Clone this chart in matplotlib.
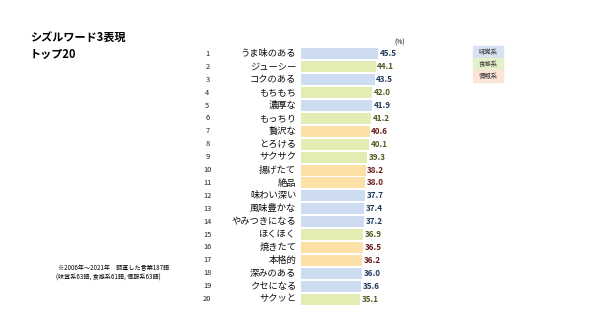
import matplotlib
matplotlib.use("Agg")
import matplotlib.pyplot as plt
from matplotlib.patches import Rectangle

plt.rcParams['font.family'] = ['Noto Sans CJK JP', 'DejaVu Sans']

words = ["うま味のある", "ジューシー", "コクのある", "もちもち", "濃厚な", "もっちり",
         "贅沢な", "とろける", "サクサク", "揚げたて", "絶品", "味わい深い",
         "風味豊かな", "やみつきになる", "ほくほく", "焼きたて", "本格的", "深みのある",
         "クセになる", "サクッと"]
values = [45.5, 44.1, 43.5, 42.0, 41.9, 41.2, 40.6, 40.1, 39.3, 38.2, 38.0,
          37.7, 37.4, 37.2, 36.9, 36.5, 36.2, 36.0, 35.6, 35.1]
groups = ["味覚系", "食感系", "味覚系", "食感系", "味覚系", "食感系", "情報系", "食感系",
          "食感系", "情報系", "情報系", "味覚系", "味覚系", "味覚系", "食感系", "情報系",
          "情報系", "味覚系", "味覚系", "食感系"]
legend_names = ["味覚系", "食感系", "情報系"]

bar_col = {"味覚系": "#cddcf0", "食感系": "#e3ecb2", "情報系": "#fddfa8"}
val_col = {"味覚系": "#1f3a5f", "食感系": "#4f5a1e", "情報系": "#6b1a1a"}
leg_col = {"味覚系": "#d7e3f3", "食感系": "#e6f0c9", "情報系": "#fce4d6"}

fig = plt.figure(figsize=(6, 3.24), dpi=100)
ax = fig.add_axes([301 / 600, 1 - 305.5 / 324, 120 / 600, 258 / 324])

ranks = list(range(1, len(values) + 1))
ax.barh(ranks, values, height=0.86, color=[bar_col[g] for g in groups])
for r, v, g, w in zip(ranks, values, groups, words):
    ax.text(v + 1.0, r, f"{v:.1f}", va="center", ha="left", fontsize=5.8,
            fontweight="bold", color=val_col[g])
    ax.text(-0.04, r, w, transform=ax.get_yaxis_transform(), va="center",
            ha="right", fontsize=6.7, color="#111111")
    ax.text(-0.78, r, str(r), transform=ax.get_yaxis_transform(), va="center",
            ha="center", fontsize=5.4, color="#222222")

ax.set_xlim(0, 71)
ax.set_ylim(20.5, 0.5)
ax.axis("off")

fig.text(400 / 600, 1 - 43 / 324, "(%)", fontsize=4.8, ha="center", va="center")

fig.text(30 / 600, 1 - 37 / 324, "シズルワード3表現", fontsize=8, fontweight="bold",
         ha="left", va="center")
fig.text(30 / 600, 1 - 54 / 324, "トップ20", fontsize=8, fontweight="bold",
         ha="left", va="center")

fig.text(58 / 600, 1 - 268 / 324, "※2006年～2021年　調査した言葉187語", fontsize=4.4,
         ha="left", va="center")
fig.text(56 / 600, 1 - 278 / 324, "(味覚系63語, 食感系61語, 情報系63語)", fontsize=4.4,
         ha="left", va="center")

for i, name in enumerate(legend_names):
    top = 46 + i * 12
    fig.patches.append(Rectangle((473 / 600, 1 - (top + 12) / 324), 30 / 600, 12 / 324,
                                 transform=fig.transFigure, color=leg_col[name]))
    fig.text(488 / 600, 1 - (top + 6) / 324, name, fontsize=4.6, ha="center",
             va="center", color="#333333")

fig.savefig("out.png", dpi=100)
